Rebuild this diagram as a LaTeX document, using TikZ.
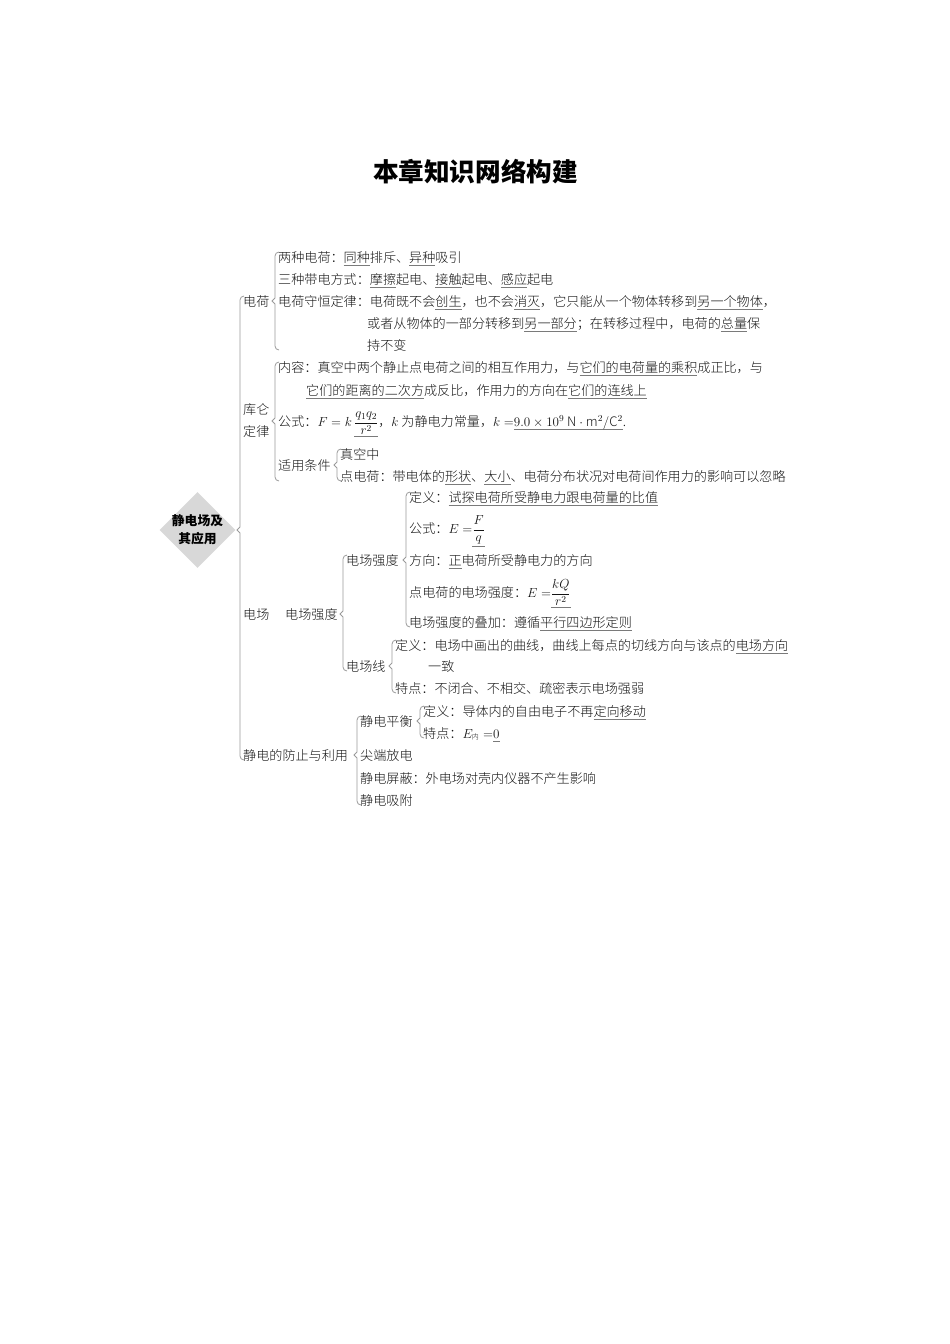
\documentclass[tikz,border=0pt]{standalone}
\usepackage{fix-cm}
\usepackage{fontspec}
\IfFontExistsTF{Noto Sans CJK SC Light}{\setmainfont{Noto Sans CJK SC Light}}{\setmainfont{Noto Sans CJK SC}}
\newfontfamily\cjkb{Noto Sans CJK SC}
\usetikzlibrary{shapes.geometric,calc}
\definecolor{ink}{HTML}{141414}
\definecolor{brkc}{HTML}{9A9A9A}
\definecolor{ulc}{HTML}{7A7A7A}
\definecolor{diafill}{HTML}{D8D8D8}
\newcommand\ul[1]{\setbox0\hbox{#1}\rlap{\textcolor{ulc}{\rule[-3.4pt]{\wd0}{0.7pt}}}\box0}
\newcommand\ulf[1]{\setbox0\hbox{#1}\rlap{\textcolor{ulc}{\rule[-\dimexpr\dp0+1.8pt\relax]{\wd0}{0.7pt}}}\box0}
\newcommand\brk[3]{%
 \draw[brkline] let \p1=(#2.west), \p2=(#1.east), \p3=(#3.west) in
 (\x1+1pt,\y1+5pt) to[out=180,in=90] (\x1-3pt,\y1+1pt) -- (\x1-3pt,\y2+3pt) -- (\x1-6pt,\y2)
 -- (\x1-3pt,\y2-3pt) -- (\x1-3pt,\y3-1pt) to[out=-90,in=180] (\x1+1pt,\y3-5pt);}
\tikzset{
 txt/.style={inner sep=0pt, anchor=west, text height=11.5pt, text depth=1.5pt,
   font=\fontsize{13.1}{16}\selectfont, text=ink},
 txtml/.style={inner sep=0pt, align=center, font=\fontsize{13.1}{22}\selectfont, text=ink},
 brkline/.style={draw=brkc, line width=0.8pt},
}
\begin{document}
\begin{tikzpicture}[x=1pt,y=-1pt]
\useasboundingbox (0,0) rectangle (950,1344);
\node[font=\cjkb\bfseries\fontsize{25.6}{30}\selectfont, text=black, inner sep=0pt] (title) at (475.5,172) {本章知识网络构建};
% root
\node[diamond, fill=diafill, minimum width=76pt, minimum height=76pt, inner sep=0pt] (dia) at (197.5,530) {};
\node[align=center, inner sep=0pt, font=\cjkb\bfseries\fontsize{12.8}{18}\selectfont, text=black] (diatext) at (dia.center) {静电场及\\其应用};
% level 1
\node[txt] (n1) at (243,301) {电荷};
\node[txtml, anchor=west] (n2) at (243,421) {库仑\\定律};
\node[txt] (n3) at (243,614) {电场};
\node[txt] (n4) at (243,755) {静电的防止与利用};
% charge
\node[txt] (n11) at (278,257) {两种电荷：\ul{同种}排斥、\ul{异种}吸引};
\node[txt] (n12) at (278,279) {三种带电方式：\ul{摩擦}起电、\ul{接触}起电、\ul{感应}起电};
\node[txt] (n13) at (278,301) {电荷守恒定律：电荷既不会\ul{创生}，也不会\ul{消灭}，它只能从一个物体转移到\ul{另一个物体}，};
\node[txt] (n13b) at (367,323) {或者从物体的一部分转移到\ul{另一部分}；在转移过程中，电荷的\ul{总量}保};
\node[txt] (n13c) at (367,345) {持不变};
% coulomb
\node[txt] (n21) at (278,367) {内容：真空中两个静止点电荷之间的相互作用力，与\ul{它们的电荷量的乘积}成正比，与};
\node[txt] (n21b) at (306,390) {\ul{它们的距离的二次方}成反比，作用力的方向在\ul{它们的连线上}};
\node[txt] (n22) at (278,421) {公式：$F=k$\,\ulf{$\displaystyle\frac{q_1q_2}{r^2}$}，$k$ 为静电力常量，$k=$\ul{$9.0\times10^{9}\ \mathrm{N}\cdot\mathrm{m}^{2}/\mathrm{C}^{2}$}.};
\node[txt] (n23) at (278,465) {适用条件};
\node[txt] (n231) at (340,454) {真空中};
\node[txt] (n232) at (340,476) {点电荷：带电体的\ul{形状}、\ul{大小}、电荷分布状况对电荷间作用力的影响可以忽略};
% field
\node[txt] (n30) at (285,614) {电场强度};
\node[txt] (n31) at (346,560) {电场强度};
\node[txt] (n311) at (409,497) {定义：\ul{试探电荷所受静电力跟电荷量的比值}};
\node[txt] (n312) at (409,528) {公式：$E=$\ulf{$\displaystyle\frac{F}{q}$}};
\node[txt] (n313) at (409,560) {方向：\ul{正}电荷所受静电力的方向};
\node[txt] (n314) at (409,592) {点电荷的电场强度：$E=$\ulf{$\displaystyle\frac{kQ}{r^2}$}};
\node[txt] (n315) at (409,622) {电场强度的叠加：遵循\ul{平行四边形定则}};
\node[txt] (n32) at (346,666) {电场线};
\node[txt] (n321) at (395,645) {定义：电场中画出的曲线，曲线上每点的切线方向与该点的\ul{电场方向}};
\node[txt] (n321b) at (428,666) {一致};
\node[txt] (n322) at (395,688) {特点：不闭合、不相交、疏密表示电场强弱};
% electrostatics
\node[txt] (n41) at (360,721) {静电平衡};
\node[txt] (n411) at (423,711) {定义：导体内的自由电子不再\ul{定向移动}};
\node[txt] (n412) at (423,733) {特点：$E_{\mbox{\fontsize{7}{7}\selectfont 内}}=$\ul{$0$}};
\node[txt] (n42) at (360,755) {尖端放电};
\node[txt] (n43) at (360,778) {静电屏蔽：外电场对壳内仪器不产生影响};
\node[txt] (n44) at (360,800) {静电吸附};
% brackets
\brk{dia}{n1}{n4}
\brk{n1}{n11}{n13c}
\brk{n2}{n21}{n232}
\brk{n23}{n231}{n232}
\brk{n30}{n31}{n32}
\brk{n31}{n311}{n315}
\brk{n32}{n321}{n322}
\brk{n4}{n41}{n44}
\brk{n41}{n411}{n412}
\end{tikzpicture}
\end{document}
